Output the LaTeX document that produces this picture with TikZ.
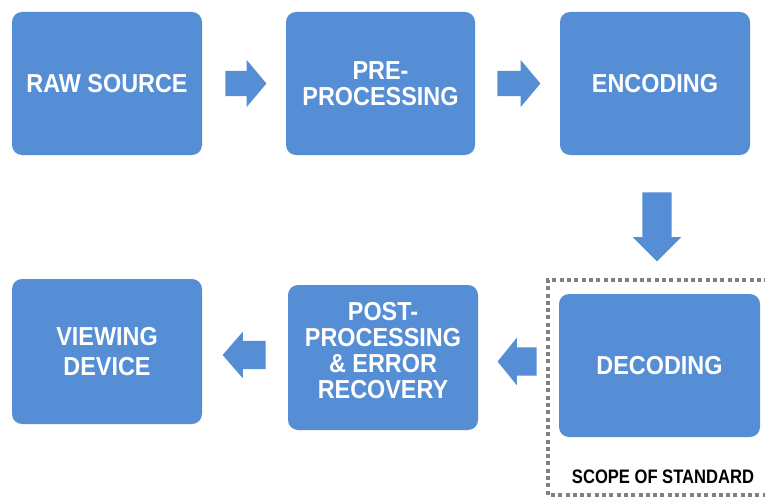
\documentclass[tikz,border=0pt]{standalone}
\usepackage{fontspec}
\setmainfont{Liberation Sans}
\newfontfamily\boxfont[FakeStretch=0.9]{Liberation Sans}
\newfontfamily\scopefont[FakeStretch=0.85]{Liberation Sans}
\usetikzlibrary{shapes.arrows}
\definecolor{stageblue}{RGB}{85,142,213}
\definecolor{framegray}{RGB}{128,128,128}

\begin{document}
\begin{tikzpicture}[x=1pt,y=-1pt,
  stagefont/.style={text=white, align=center,
    font=\boxfont\bfseries\fontsize{26}{26}\selectfont},
  stage/.style={fill=stageblue, draw=none, rounded corners=10pt,
    minimum width=190pt, minimum height=143pt, inner sep=0pt, stagefont},
  flowarrow/.style={single arrow, fill=stageblue, draw=none, anchor=tail,
    inner xsep=0pt, inner ysep=12.5pt,
    single arrow head extend=11pt, minimum height=42pt,
    single arrow tip angle=100},
]
% canvas
\useasboundingbox[fill=white] (0,0) rectangle (765,500);

% processing stages
\node[stage] (raw) at (107,83.5) {RAW SOURCE};
\node[stage, minimum width=189pt] (pre) at (380.5,83.5) {PRE-\\PROCESSING};
\node[stage] (enc) at (655,83.5) {ENCODING};
\node[stage, minimum width=201pt] (dec) at (659.5,365.5) {DECODING};
\node[stage, minimum height=145pt] (post) at (383,357.5) {};
\node[stagefont, inner sep=0pt] (posttext) at ([yshift=7pt]post.center)
  {POST-\\PROCESSING\\\& ERROR\\RECOVERY};
\node[stage, minimum height=145pt,
  font=\boxfont\bfseries\fontsize{26}{30}\selectfont] (view) at (107,351.5)
  {VIEWING\\DEVICE};

% block arrows between stages, each starting just past the stage it leaves
\node[flowarrow, minimum height=41pt] (a1) at ([xshift=23pt]raw.east) {};
\node[flowarrow, minimum height=43pt] (a2) at ([xshift=22pt]pre.east) {};
\node[flowarrow, rotate=-90, minimum height=69pt,
      inner ysep=14.5pt, single arrow head extend=9.5pt,
      single arrow tip angle=90] (a3) at ([xshift=2pt,yshift=-37pt]enc.south) {};
\node[flowarrow, rotate=180, minimum height=39pt,
      inner ysep=14pt, single arrow head extend=9.5pt,
      single arrow tip angle=102] (a4) at ([xshift=-22pt,yshift=4pt]dec.west) {};
\node[flowarrow, rotate=180, minimum height=43pt,
      inner ysep=14pt, single arrow head extend=9pt,
      single arrow tip angle=98] (a5) at ([xshift=-22pt,yshift=2.5pt]post.west) {};

% scope of the standard
\node[inner sep=0pt, text=black,
  font=\scopefont\bfseries\fontsize{19.5}{20}\selectfont] (scope) at (663,477)
  {SCOPE OF STANDARD};
\draw[framegray, line width=4pt, dash pattern=on 4pt off 3.3pt]
  (790,280) -- (548,280) -- (548,495) -- (790,495);
\end{tikzpicture}
\end{document}
